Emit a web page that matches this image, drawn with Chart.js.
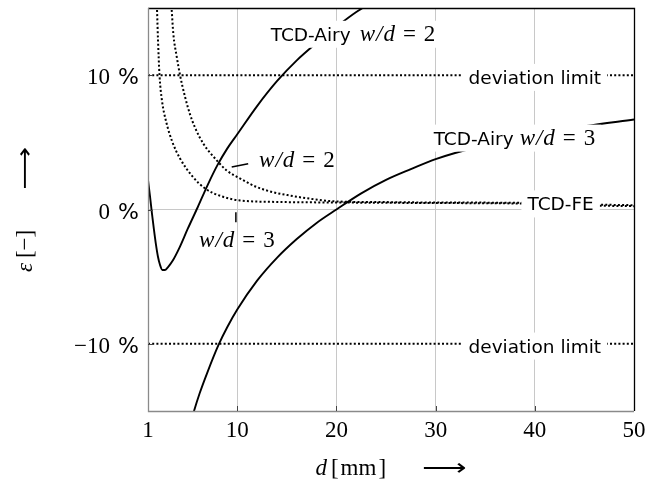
<!DOCTYPE html>
<html>
<head>
<meta charset="utf-8">
<script src="https://cdn.jsdelivr.net/npm/chart.js@4.4.1/dist/chart.umd.min.js"></script>
<style>
  html, body { margin: 0; padding: 0; background: #fff; }
  canvas { display: block; }
</style>
</head>
<body>
<canvas id="chart" width="659" height="484"></canvas>
<script>
const xTicks = [1, 10, 20, 30, 40, 50];
const yTicks = [-10, 0, 10];

// TCD-Airy, w/d = 2
const airy2D   = [1.0, 1.2, 1.4, 1.6, 1.8, 2.0, 2.2, 2.45, 2.7, 3.0, 3.5, 4.2, 5.0, 6.0, 7.0, 8.0, 9.0, 10.0, 12.0, 14.0, 16.0, 18.0, 20.0, 22.0, 24.0];
const airy2Eps = [2.2, 1.0, -0.3, -1.5, -2.6, -3.5, -4.1, -4.5, -4.5, -4.3, -3.8, -2.8, -1.45, 0.15, 1.8, 3.3, 4.55, 5.6, 7.7, 9.55, 11.1, 12.4, 13.6, 14.7, 15.6];

// TCD-Airy, w/d = 3
const airy3D   = [5.3, 5.6, 6.2, 7.0, 8.1, 9.0, 10.0, 12.0, 14.0, 16.0, 18.0, 20.0, 22.5, 25.0, 27.5, 30.0, 35.0, 40.0, 45.0, 50.0];
const airy3Eps = [-15.9, -15.1, -13.7, -12.1, -10.1, -8.75, -7.45, -5.3, -3.6, -2.2, -1.0, 0.0, 1.2, 2.2, 3.0, 3.75, 4.8, 5.6, 6.2, 6.7];

// TCD-FE, w/d = 2
const fe2D   = [3.39, 3.55, 3.89, 4.23, 4.73, 5.23, 5.74, 6.58, 7.93, 8.94, 10.3, 12.0, 13.6, 15.3, 17.0, 20.0, 25.0, 30.0, 38.0, 45.0, 50.0];
const fe2Eps = [14.85, 13.1, 11.4, 10.0, 8.4, 7.1, 6.1, 4.9, 3.66, 2.9, 2.3, 1.66, 1.29, 1.04, 0.84, 0.6, 0.55, 0.52, 0.5, 0.38, 0.32];

// TCD-FE, w/d = 3
const fe3D   = [1.91, 2.01, 2.16, 2.41, 2.81, 3.42, 4.23, 5.44, 6.75, 8.46, 10.3, 14.3, 20.1, 25.0, 30.0, 38.0, 45.0, 50.0];
const fe3Eps = [14.85, 12.6, 10.0, 8.1, 6.6, 5.1, 3.8, 2.5, 1.57, 0.97, 0.67, 0.56, 0.52, 0.5, 0.48, 0.45, 0.3, 0.25];

// deviation limit
const limitD   = [1, 50];
const limitHi  = [10, 10];
const limitLo  = [-10, -10];

const SERIF = '"Liberation Serif", "DejaVu Serif", serif';
const SANS = '"DejaVu Sans", sans-serif';
const fRoman = `23px ${SERIF}`;
const fItalic = `italic 23px ${SERIF}`;
const fSans = `18.5px ${SANS}`;
const fPct = `22px ${SANS}`;
const fArrow = `23px ${SANS}`;

function toPoints(xs, ys) {
  return xs.map((x, i) => ({ x, y: ys[i] }));
}

function curve(data, dotted) {
  return {
    data,
    showLine: true,
    fill: false,
    borderColor: "#000",
    borderWidth: dotted ? 2 : 1.9,
    borderDash: dotted ? [2, 2.2] : [],
    borderCapStyle: "butt",
    pointRadius: 0,
    pointHoverRadius: 0,
    cubicInterpolationMode: "monotone",
  };
}

// a run is a list of [text, font, stretchX] pieces; plain numbers are gaps in px
function pieceWidth(ctx, r) {
  ctx.font = r[1];
  return ctx.measureText(r[0]).width * (r[2] || 1);
}

function runWidth(ctx, run) {
  return run.reduce((w, r) => w + (typeof r === "number" ? r : pieceWidth(ctx, r)), 0);
}

function drawRun(ctx, run, x, y) {
  let cx = x;
  ctx.textAlign = "left";
  ctx.textBaseline = "alphabetic";
  run.forEach((r) => {
    if (typeof r === "number") { cx += r; return; }
    const w = pieceWidth(ctx, r);
    ctx.save();
    ctx.translate(cx, y);
    ctx.scale(r[2] || 1, 1);
    ctx.fillText(r[0], 0, 0);
    ctx.restore();
    cx += w;
  });
}

const wd = (n) => [["w", fItalic], 1, ["/", fItalic], 1, ["d", fItalic], 8, ["=", fRoman], 8, [String(n), fRoman]];

// labels sitting on a white box, centred at d, baseline at eps
const boxedLabels = [
  { run: [["TCD-Airy", fSans], 9, ...wd(2)], d: 21.67, eps: 12.56 },
  { run: [["TCD-Airy", fSans], 6, ...wd(3)], d: 37.95, eps: 4.83 },
  { run: [["deviation limit", fSans]], d: 40.0, eps: 9.35 },
  { run: [["deviation limit", fSans]], d: 40.0, eps: -10.65 },
  { run: [["TCD-FE", fSans]], d: 42.6, eps: -0.07 },
];

// free labels, left edge at d
const plainLabels = [
  { run: wd(2), d: 12.2, eps: 3.13 },
  { run: wd(3), d: 6.15, eps: -2.81 },
];

// short pointer strokes next to the free labels
const pointers = [
  { d: [9.44, 11.1], eps: [3.16, 3.41] },
  { d: [9.86, 9.86], eps: [-0.2, -0.95] },
];

const decorations = {
  id: "decorations",
  afterDatasetsDraw(chart) {
    const { ctx, scales: { x, y } } = chart;
    ctx.save();

    ctx.strokeStyle = "#000";
    ctx.lineWidth = 1.5;
    pointers.forEach((p) => {
      ctx.beginPath();
      ctx.moveTo(x.getPixelForValue(p.d[0]), y.getPixelForValue(p.eps[0]));
      ctx.lineTo(x.getPixelForValue(p.d[1]), y.getPixelForValue(p.eps[1]));
      ctx.stroke();
    });

    boxedLabels.forEach((l) => {
      const w = runWidth(ctx, l.run);
      const cx = x.getPixelForValue(l.d);
      const by = y.getPixelForValue(l.eps);
      ctx.fillStyle = "#fff";
      ctx.fillRect(cx - w / 2 - 6, by - 20, w + 12, 27);
      ctx.fillStyle = "#000";
      drawRun(ctx, l.run, cx - w / 2, by);
    });

    ctx.fillStyle = "#000";
    plainLabels.forEach((l) => {
      drawRun(ctx, l.run, x.getPixelForValue(l.d), y.getPixelForValue(l.eps));
    });
    ctx.restore();
  },
  afterDraw(chart) {
    const { ctx, chartArea: a, scales: { x, y } } = chart;
    ctx.save();

    // frame: left and bottom axis grey, top and right black
    ctx.lineWidth = 1.3;
    ctx.strokeStyle = "#000";
    ctx.beginPath();
    ctx.moveTo(a.left, a.top + 0.5);
    ctx.lineTo(a.right + 0.5, a.top + 0.5);
    ctx.lineTo(a.right + 0.5, a.bottom);
    ctx.stroke();
    ctx.strokeStyle = "#8a8a8a";
    ctx.beginPath();
    ctx.moveTo(a.left + 0.5, a.top);
    ctx.lineTo(a.left + 0.5, a.bottom + 0.5);
    ctx.lineTo(a.right, a.bottom + 0.5);
    ctx.stroke();

    // inner tick marks
    ctx.strokeStyle = "#444";
    ctx.lineWidth = 1;
    ctx.beginPath();
    xTicks.slice(1, -1).forEach((v) => {
      const px = Math.round(x.getPixelForValue(v)) + 0.5;
      ctx.moveTo(px, a.bottom);
      ctx.lineTo(px, a.bottom - 5);
    });
    yTicks.forEach((v) => {
      const py = Math.round(y.getPixelForValue(v)) + 0.5;
      ctx.moveTo(a.left, py);
      ctx.lineTo(a.left + 5, py);
    });
    ctx.stroke();

    ctx.fillStyle = "#000";
    // x tick labels
    ctx.font = fRoman;
    ctx.textAlign = "center";
    ctx.textBaseline = "alphabetic";
    xTicks.forEach((v) => {
      ctx.fillText(String(v), x.getPixelForValue(v), 437);
    });

    // y tick labels: number in serif, percent sign in sans
    yTicks.forEach((v) => {
      const num = v < 0 ? `\u2212${Math.abs(v)}` : String(v);
      const run = [[num, fRoman], 8, ["%", fPct]];
      const w = runWidth(ctx, run);
      drawRun(ctx, run, 139 - w, y.getPixelForValue(v) + 9);
    });

    // axis titles
    const xTitle = [["d", fItalic], 4, ["[", fRoman], 2, ["mm", fRoman], 2, ["]", fRoman], 36, ["\u27F6", fArrow, 1.35]];
    const xw = runWidth(ctx, xTitle);
    drawRun(ctx, xTitle, (a.left + a.right) / 2 - xw / 2, 475);

    const yTitle = [["\u03B5", fItalic], 5, ["[\u2212]", fRoman], 40, ["\u27F6", fArrow, 1.3]];
    const yw = runWidth(ctx, yTitle);
    ctx.translate(32, (a.top + a.bottom) / 2 + yw / 2);
    ctx.rotate(-Math.PI / 2);
    drawRun(ctx, yTitle, 0, 0);
    ctx.restore();
  },
};

const ctx = document.getElementById("chart").getContext("2d");

new Chart(ctx, {
  type: "scatter",
  data: {
    datasets: [
      curve(toPoints(airy2D, airy2Eps), false),
      curve(toPoints(airy3D, airy3Eps), false),
      curve(toPoints(fe2D, fe2Eps), true),
      curve(toPoints(fe3D, fe3Eps), true),
      curve(toPoints(limitD, limitHi), true),
      curve(toPoints(limitD, limitLo), true),
    ],
  },
  options: {
    responsive: false,
    animation: false,
    events: [],
    layout: { padding: { left: 0, top: 8, right: 25, bottom: 0 } },
    plugins: {
      legend: { display: false },
      tooltip: { enabled: false },
    },
    scales: {
      x: {
        type: "linear",
        min: 1,
        max: 50,
        afterBuildTicks: (s) => { s.ticks = xTicks.map((v) => ({ value: v })); },
        afterFit: (s) => { s.height = 73; },
        ticks: { display: false },
        grid: { color: "#c8c8c8", lineWidth: 1, drawTicks: false },
        border: { display: false },
      },
      y: {
        type: "linear",
        min: -15,
        max: 15,
        afterBuildTicks: (s) => { s.ticks = yTicks.map((v) => ({ value: v })); },
        afterFit: (s) => { s.width = 148; },
        ticks: { display: false },
        grid: {
          color: (c) => (c.tick && c.tick.value === 0 ? "#c8c8c8" : "rgba(0,0,0,0)"),
          lineWidth: 1,
          drawTicks: false,
        },
        border: { display: false },
      },
    },
  },
  plugins: [decorations],
});
</script>
</body>
</html>
